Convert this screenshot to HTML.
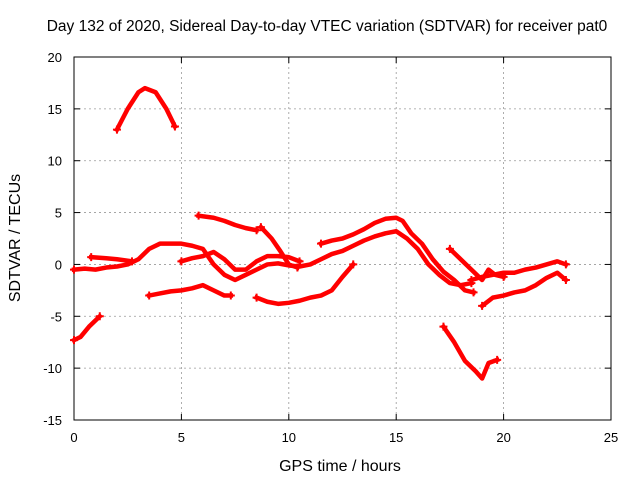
<!DOCTYPE html>
<html><head><meta charset="utf-8"><style>
body{margin:0;background:#fff}
svg{display:block;font-family:"Liberation Sans",sans-serif;font-size:13px}
</style></head><body>
<svg width="640" height="480">
<text x="327" y="31" text-anchor="middle" font-size="15.5">Day 132 of 2020, Sidereal Day-to-day VTEC variation (SDTVAR) for receiver pat0</text>
<g id="grid"></g>
<g id="ticks"></g>
<rect x="74" y="57" width="537" height="363" fill="none" stroke="#000"/>
<g id="series"></g>
<text x="340" y="471" text-anchor="middle" font-size="16">GPS time / hours</text>
<text transform="translate(20,238) rotate(-90)" text-anchor="middle" font-size="16">SDTVAR / TECUs</text>
</svg>
<script>
const xTicks=[0,5,10,15,20,25];
const yTicks=[-15,-10,-5,0,5,10,15,20];
const track1=[[2.0,13],[2.5,15],[3.0,16.6],[3.3,17],[3.8,16.6],[4.3,15],[4.7,13.3]];
const track2=[[0,-7.3],[0.3,-7],[0.7,-6],[1.2,-5]];
const track3=[[0,-0.5],[0.5,-0.4],[1.0,-0.5],[1.5,-0.3],[2.0,-0.2],[2.5,0],[3.0,0.5],[3.5,1.5],[4,2],[4.5,2],[5,2],[5.5,1.8],[6,1.5],[6.5,0],[7,-1],[7.5,-1.5],[8,-1],[8.5,-0.5],[9,0],[9.5,0.1],[10,-0.1],[10.5,-0.2],[11,0],[11.5,0.5],[12,1],[12.5,1.3],[13,1.8],[13.5,2.3],[14,2.7],[14.5,3],[15,3.2],[15.5,2.5],[16,1.5],[16.5,0],[17,-1],[17.5,-1.8],[18,-2],[18.5,-1.8]];
const track4=[[0.8,0.7],[1.5,0.6],[2,0.5],[2.7,0.3]];
const track5=[[3.5,-3],[4,-2.8],[4.5,-2.6],[5,-2.5],[5.5,-2.3],[6,-2],[6.5,-2.5],[7,-3],[7.3,-3]];
const track6=[[5,0.3],[5.5,0.6],[6,0.8],[6.5,1.2],[7,0.5],[7.5,-0.5],[8,-0.5],[8.5,0.3],[9,0.8],[9.5,0.8],[10,0.7],[10.5,0.3]];
const track7=[[5.8,4.7],[6.5,4.5],[7,4.2],[7.5,3.8],[8,3.5],[8.5,3.3]];
const track8=[[8.7,3.6],[9.2,2.5],[9.6,1.3],[10,0],[10.4,-0.3]];
const track9=[[8.5,-3.2],[9,-3.6],[9.5,-3.8],[10,-3.7],[10.5,-3.5],[11,-3.2],[11.5,-3],[12,-2.5],[12.5,-1.2],[13,0]];
const track10=[[11.5,2],[12,2.3],[12.5,2.5],[13,2.9],[13.5,3.4],[14,4],[14.5,4.4],[15,4.5],[15.3,4.2],[15.7,3],[16.2,2],[16.7,0.5],[17.2,-0.7],[17.7,-1.5],[18.2,-2.5],[18.6,-2.7]];
const track11=[[17.2,-6],[17.7,-7.5],[18.2,-9.3],[18.7,-10.3],[19,-11],[19.3,-9.5],[19.7,-9.2]];
const track12=[[17.5,1.5],[18,0.5],[18.5,-0.5],[19,-1.5],[19.3,-0.5],[19.6,-1],[20,-1.2]];
const track13=[[19,-4],[19.5,-3.2],[20,-3],[20.5,-2.7],[21,-2.5],[21.5,-2],[22,-1.3],[22.5,-0.8],[22.9,-1.5]];
const track14=[[18.5,-1.5],[19,-1.2],[19.5,-1],[20,-0.8],[20.5,-0.8],[21,-0.5],[21.5,-0.3],[22,0],[22.5,0.3],[22.9,0]];
const tracks=[track1,track2,track3,track4,track5,track6,track7,track8,track9,track10,track11,track12,track13,track14];
const NS="http://www.w3.org/2000/svg";
const X=v=>74+v*537/25, Y=v=>57+(20-v)*363/35;
const grid=document.getElementById('grid'),ticks=document.getElementById('ticks'),ser=document.getElementById('series');
function mk(t,a,p){const e=document.createElementNS(NS,t);for(const k in a)e.setAttribute(k,a[k]);p.appendChild(e);return e;}
xTicks.forEach(t=>{
 if(t>0&&t<25){const l=mk('line',{x1:X(t),x2:X(t),y1:57,y2:420,stroke:'#999','stroke-dasharray':'2,3','stroke-width':0.8},grid);
 
 }
 const tx=mk('text',{x:X(t),y:442,'text-anchor':'middle'},ticks);tx.textContent=t;
 
 
 mk('line',{x1:X(t),x2:X(t),y1:420,y2:414,stroke:'#000'},ticks);
 mk('line',{x1:X(t),x2:X(t),y1:57,y2:63,stroke:'#000'},ticks);
});
yTicks.forEach(t=>{
 if(t>-15&&t<20){const l=mk('line',{x1:74,x2:611,y1:Y(t),y2:Y(t),stroke:'#999','stroke-dasharray':'2,3','stroke-width':0.8},grid);
 
 }
 const tx=mk('text',{x:62,y:Y(t)+5,'text-anchor':'end'},ticks);tx.textContent=t;
 
 
 mk('line',{x1:74,x2:80,y1:Y(t),y2:Y(t),stroke:'#000'},ticks);
 mk('line',{x1:611,x2:605,y1:Y(t),y2:Y(t),stroke:'#000'},ticks);
});
tracks.forEach((tr,i)=>{
 const p=mk('polyline',{points:tr.map(d=>X(d[0])+','+Y(d[1])).join(' '),fill:'none',stroke:'#f00','stroke-width':4.5,'stroke-linejoin':'round','stroke-linecap':'square'},ser);
 
 
 [tr[0],tr[tr.length-1]].forEach(d=>{
  mk('path',{d:`M${X(d[0])-4},${Y(d[1])}h8M${X(d[0])},${Y(d[1])-4}v8`,stroke:'#f00','stroke-width':2},ser);
 });
});
</script>
</body></html>
